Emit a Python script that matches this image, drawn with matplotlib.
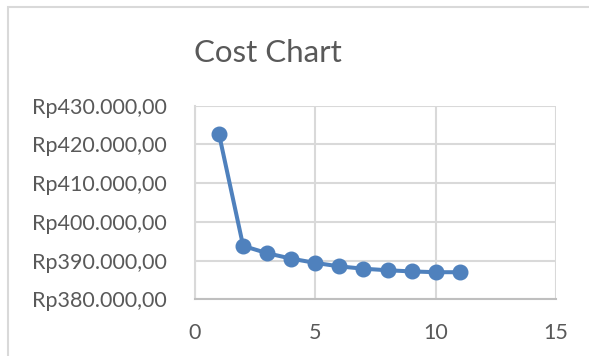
import matplotlib.pyplot as plt
from matplotlib.patches import Rectangle
from matplotlib.ticker import FuncFormatter

iterations = [1, 2, 3, 4, 5, 6, 7, 8, 9, 10, 11]
cost = [422600, 393800, 391900, 390500, 389400, 388500, 387900, 387500, 387200, 387000, 387000]

x_ticks = [0, 5, 10, 15]
y_ticks = [380000, 390000, 400000, 410000, 420000, 430000]

text_color = '#595959'
grid_color = '#d9d9d9'
line_color = '#4f81bd'

plt.rcParams['font.family'] = ['Lato', 'DejaVu Sans']

fig = plt.figure(figsize=(5.89, 3.56), dpi=100)
W, H = 589, 356

# chart frame
fig.patches.append(Rectangle((8 / W, -0.1), 1.2, 1 - 7 / H + 0.1, transform=fig.transFigure,
                             fill=False, edgecolor=grid_color, linewidth=1.5))

ax = fig.add_axes([195 / W, 1 - 299.3 / H, (556 - 195) / W, (299.3 - 105.7) / H])
ax.plot(iterations, cost, color=line_color, linewidth=2.9, marker='o', markersize=10.5,
        clip_on=False)

ax.set_xlim(0, 15)
ax.set_ylim(380000, 430000)
ax.set_xticks(x_ticks)
ax.set_yticks(y_ticks)


def rupiah(v, pos):
    s = f'{v:,.2f}'
    s = s.replace(',', '_').replace('.', ',').replace('_', '.')
    return 'Rp' + s


ax.yaxis.set_major_formatter(FuncFormatter(rupiah))
ax.tick_params(axis='both', length=0, labelsize=15.5, colors=text_color)
ax.tick_params(axis='y', pad=20)
ax.tick_params(axis='x', pad=17)

ax.grid(True, color=grid_color, linewidth=1.5)
ax.set_axisbelow(True)
for side in ['top', 'right']:
    ax.spines[side].set_visible(False)
ax.spines['left'].set_color(grid_color)
ax.spines['left'].set_linewidth(1.5)
ax.spines['bottom'].set_color('#bfbfbf')
ax.spines['bottom'].set_linewidth(1.5)

fig.text(268 / W, 1 - 53 / H, 'Cost Chart', ha='center', va='center', fontsize=22.5, color=text_color)

fig.savefig('out.png', dpi=100)
